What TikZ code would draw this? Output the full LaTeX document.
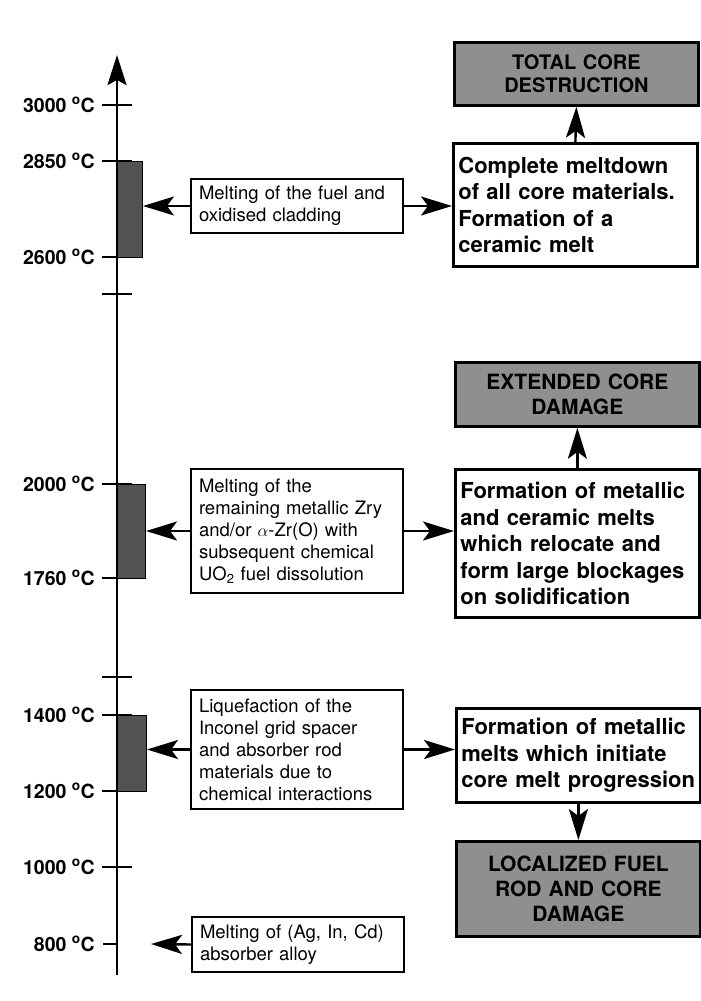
\documentclass[tikz,border=0pt]{standalone}
\usepackage{fontspec}
\setmainfont{TeX Gyre Heros}
\usetikzlibrary{arrows.meta}
\definecolor{barfill}{gray}{0.32}
\definecolor{stagefill}{gray}{0.56}
\hyphenpenalty=10000
\exhyphenpenalty=10000
\begin{document}
\begin{tikzpicture}[x=1pt,y=-1pt,
  axisline/.style={line width=2.6pt},
  tickmark/.style={line width=2.6pt},
  arr/.style={line width=2.4pt,-{Stealth[length=31pt,width=19pt,inset=7pt]}},
  templabel/.style={font=\fontsize{19.5}{22}\selectfont\bfseries, inner sep=0pt, anchor=base east},
  meltbar/.style={draw, line width=1pt, fill=barfill},
  midbox/.style={draw, line width=2pt, fill=white, font=\fontsize{18.5}{22}\selectfont,
    align=left, text width=196pt, inner xsep=8pt, inner ysep=2pt, anchor=north west},
  bigbox/.style={draw, line width=2.8pt, fill=white, font=\fontsize{22}{26.5}\selectfont\bfseries,
    align=left, text width=234pt, inner xsep=5pt, inner ysep=2pt, anchor=north west},
  stagebox/.style={draw, line width=2.8pt, fill=stagefill, font=\fontsize{21}{25}\selectfont\bfseries,
    align=center, text width=230pt, inner xsep=7pt, inner ysep=2pt, anchor=north west}
]
\useasboundingbox (0,0) rectangle (701,1001);
\fill[white] (0,0) rectangle (701,1001);

% axis
\coordinate (axbot) at (117,975);
\coordinate (axtop) at (117,55);
\draw[axisline,-{Stealth[length=30pt,width=19pt,inset=5pt]}] (axbot) -- (axtop);

% ticks with labels
\foreach \yy/\lab in {105/3000, 161/2850, 257/2600, 484/2000, 578/1760, 715/1400, 791/1200, 867/1000}{
  \draw[tickmark] (102,\yy) -- (132,\yy);
  \node[templabel] at (95,\yy+7) {\lab\ \textsuperscript{o}C};
}
\draw[tickmark] (102,294) -- (132,294);
\draw[tickmark] (102,677) -- (132,677);
\draw[tickmark] (103,944) -- (117,944);
\node[templabel] at (95,951) {800 \textsuperscript{o}C};

% melting bars
\node[meltbar, minimum width=25pt, minimum height=96pt, inner sep=0pt, anchor=north west] (bar1) at (117,161) {};
\node[meltbar, minimum width=28pt, minimum height=94pt, inner sep=0pt, anchor=north west] (bar2) at (117,484) {};
\node[meltbar, minimum width=29pt, minimum height=76pt, inner sep=0pt, anchor=north west] (bar3) at (117,715) {};

% middle boxes
\node[midbox, minimum height=54pt] (m1) at (190,178) {Melting of the fuel and\\oxidised cladding};
\node[midbox, minimum height=124pt] (m2) at (190,468) {Melting of the\\remaining metallic Zry\\and/or $\alpha$-Zr(O) with\\subsequent chemical\\UO\textsubscript{2} fuel dissolution};
\node[midbox, minimum height=119pt] (m3) at (190,689) {Liquefaction of the\\Inconel grid spacer\\and absorber rod\\materials due to\\chemical interactions};
\node[midbox, minimum height=55pt] (m4) at (191,916) {Melting of (Ag, In, Cd)\\absorber alloy};

% big boxes
\node[bigbox, minimum height=123pt] (b1) at (452,142) {Complete meltdown\\of all core materials.\\Formation of a\\ceramic melt};
\node[bigbox, minimum height=148pt] (b2) at (454,468) {Formation of metallic\\and ceramic melts\\which relocate and\\form large blockages\\on solidification};
\node[bigbox, minimum height=94pt] (b3) at (455,707) {Formation of metallic\\melts which initiate\\core melt progression};

% stage boxes
\node[stagebox, minimum height=63pt, font=\fontsize{20}{23}\selectfont\bfseries] (g1) at (453,41) {TOTAL CORE\\DESTRUCTION};
\node[stagebox, minimum height=64pt] (g2) at (454,361) {EXTENDED CORE\\DAMAGE};
\node[stagebox, minimum height=95pt] (g3) at (455,840) {LOCALIZED FUEL\\ROD AND CORE\\DAMAGE};

% connectors
\draw[arr] (m1.west) -- (m1.west -| bar1.east);
\draw[arr] (m1.east) -- (m1.east -| b1.west);
\draw[arr] (b1.north) -- (g1.south);

\draw[arr] (m2.west) -- (m2.west -| bar2.east);
\draw[arr] (m2.east) -- (m2.east -| b2.west);
\draw[arr] (b2.north) -- (g2.south);

\draw[arr] (m3.west) -- (m3.west -| bar3.east);
\draw[arr] (m3.east) -- (m3.east -| b3.west);
\draw[arr] (b3.south) -- (g3.north);

\coordinate (m4end) at (151,944);
\draw[arr] (m4.west) -- (m4end);
\end{tikzpicture}
\end{document}
